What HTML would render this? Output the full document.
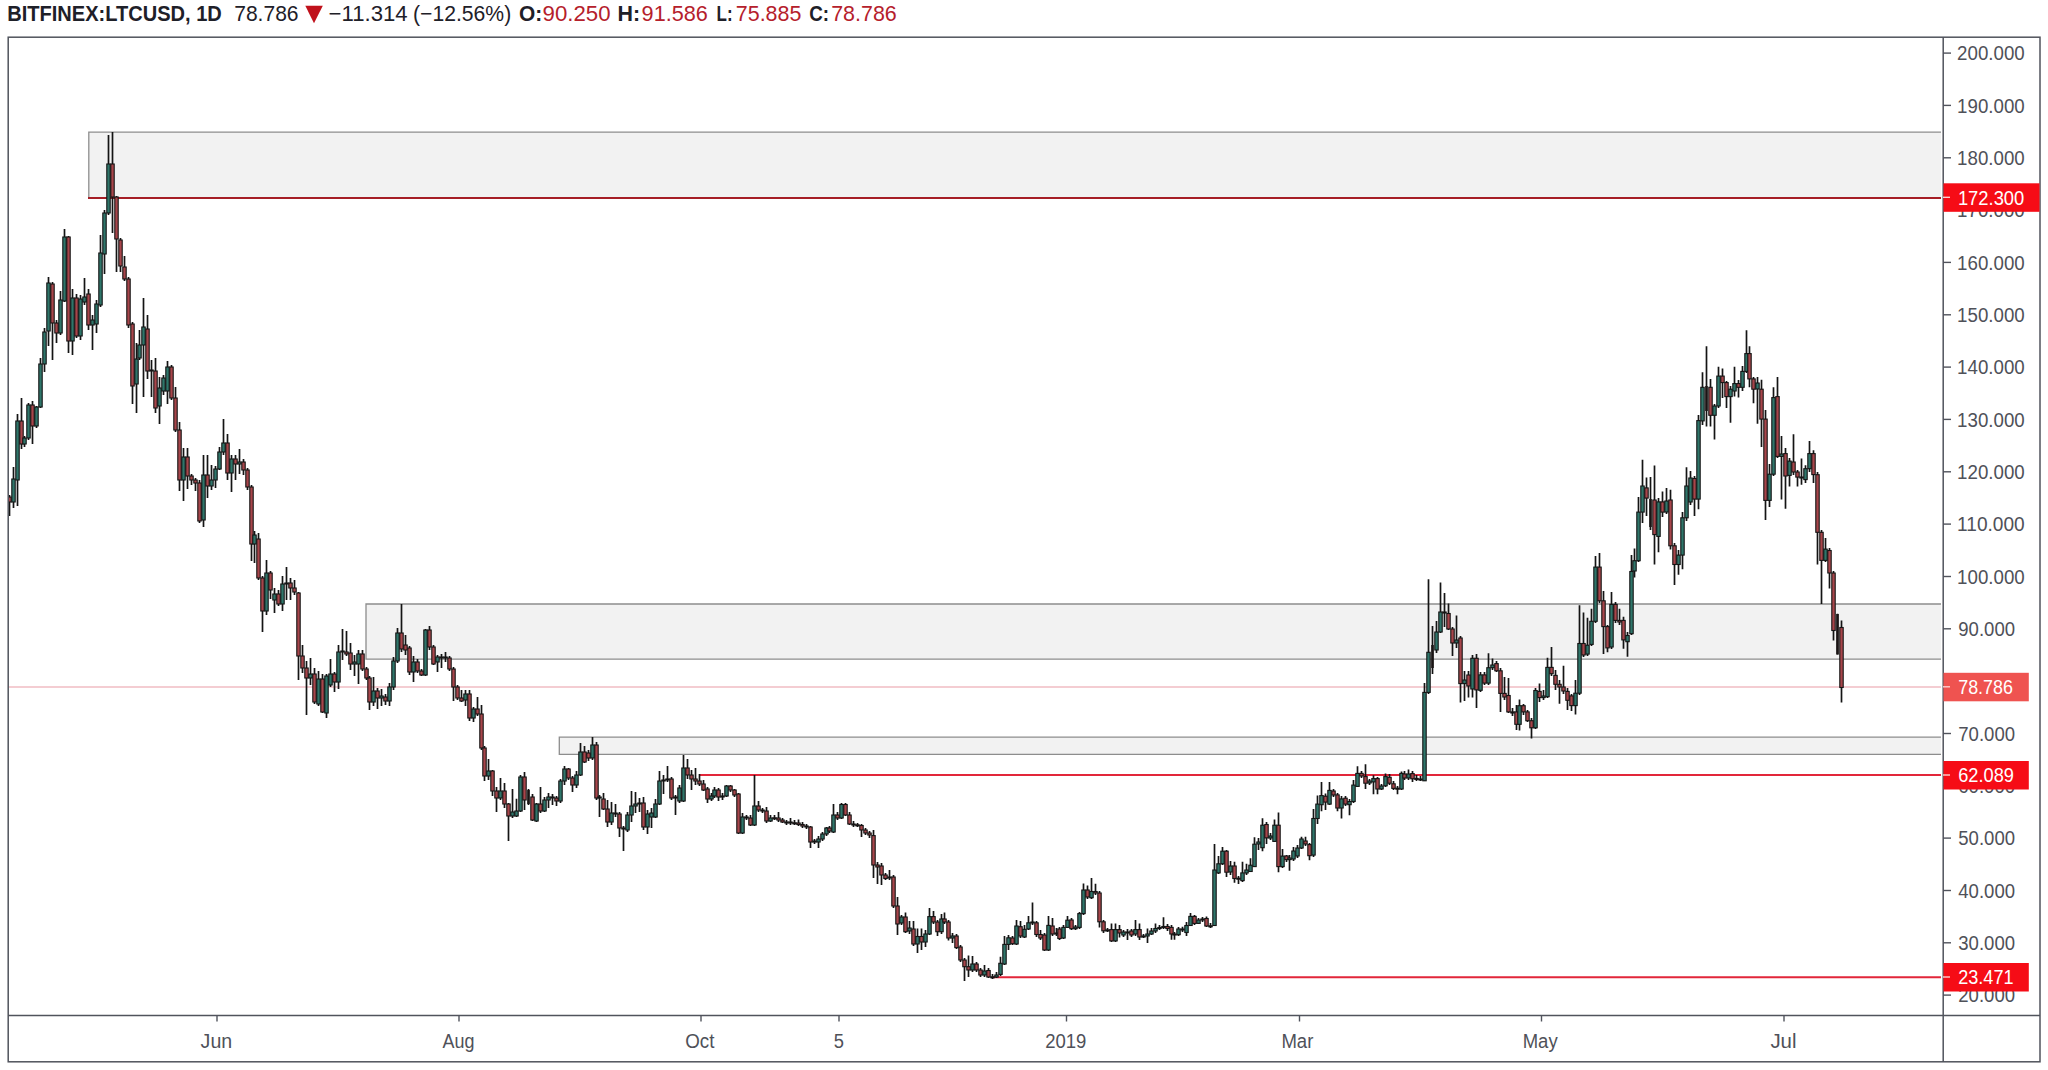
<!DOCTYPE html>
<html><head><meta charset="utf-8"><title>BITFINEX:LTCUSD, 1D</title>
<style>html,body{margin:0;padding:0;background:#fff;}body{width:2048px;height:1070px;position:relative;overflow:hidden;}</style>
</head><body>
<svg width="2048" height="1070" viewBox="0 0 2048 1070" style="position:absolute;left:0;top:0">
<defs><clipPath id="pane"><rect x="8.5" y="37.5" width="1934" height="977.5"/></clipPath></defs>
<g clip-path="url(#pane)">
<rect x="88.8" y="132.2" width="1852.2" height="65.60000000000002" fill="#f2f2f2"/>
<path d="M1941 132.2H88.8V197.8H1941" fill="none" stroke="#8d8d8d" stroke-width="1.3"/>
<rect x="366" y="604" width="1575" height="55.200000000000045" fill="#f2f2f2"/>
<path d="M1941 604H366V659.2H1941" fill="none" stroke="#8d8d8d" stroke-width="1.3"/>
<rect x="559.3" y="737.2" width="1381.7" height="17.09999999999991" fill="#f2f2f2"/>
<path d="M1941 737.2H559.3V754.3H1941" fill="none" stroke="#8d8d8d" stroke-width="1.3"/>
<line x1="8" y1="687" x2="1941" y2="687" stroke="#f1bcc3" stroke-width="1.6"/>
<line x1="88" y1="198" x2="1941" y2="198" stroke="#a61e26" stroke-width="2"/>
<line x1="699.5" y1="775.1" x2="1941" y2="775.1" stroke="#e2263a" stroke-width="2"/>
<line x1="993" y1="977.3" x2="1941" y2="977.3" stroke="#e2263a" stroke-width="2"/>
<path d="M9.50 495.0V516.0M13.50 467.0V508.0M17.50 414.0V506.0M21.50 398.0V449.0M24.50 436.0V447.0M28.50 403.0V440.0M32.50 401.0V444.0M36.50 406.0V428.0M40.50 358.0V408.0M44.50 328.0V372.0M48.50 277.0V346.0M52.50 282.0V360.0M56.50 320.0V343.0M60.50 291.0V335.0M64.50 229.0V302.0M68.50 236.0V353.0M72.50 289.0V355.0M76.50 294.0V338.0M80.50 295.0V340.0M84.50 278.0V305.0M88.50 289.0V330.0M92.50 315.0V350.0M96.50 300.0V333.0M100.50 235.0V307.0M104.50 210.0V274.0M108.50 135.0V215.0M112.50 132.0V233.0M116.50 196.0V272.0M120.50 238.0V272.0M124.50 256.0V281.0M128.50 277.0V328.0M132.50 322.0V404.0M136.50 343.0V413.0M139.50 330.0V360.0M143.50 298.0V397.0M147.50 315.0V379.0M151.50 360.0V397.0M155.50 358.0V413.0M159.50 377.0V424.0M163.50 375.0V395.0M167.50 361.0V404.0M171.50 365.0V400.0M175.50 387.0V432.0M179.50 422.0V491.0M183.50 448.0V501.0M187.50 448.0V489.0M191.50 474.0V485.0M195.50 478.0V491.0M199.50 480.0V523.0M203.50 455.0V527.0M207.50 455.0V498.0M211.50 465.0V490.0M215.50 466.0V488.0M219.50 447.0V470.0M223.50 419.0V455.0M227.50 434.0V480.0M231.50 455.0V492.0M235.50 455.0V480.0M239.50 449.0V474.0M243.50 459.0V475.0M247.50 468.0V490.0M251.50 485.0V561.0M254.50 531.0V563.0M258.50 533.0V580.0M262.50 576.0V632.0M266.50 560.0V615.0M270.50 571.0V599.0M274.50 588.0V613.0M278.50 590.0V606.0M282.50 576.0V611.0M286.50 567.0V600.0M290.50 578.0V600.0M294.50 580.0V595.0M298.50 592.0V680.0M302.50 645.0V673.0M306.50 661.0V715.0M310.50 658.0V685.0M314.50 668.0V704.0M318.50 671.0V706.0M322.50 674.0V713.0M326.50 674.0V718.0M330.50 659.0V687.0M334.50 672.0V692.0M338.50 645.0V689.0M342.50 629.0V660.0M346.50 631.0V656.0M350.50 643.0V670.0M354.50 655.0V676.0M358.50 650.0V684.0M362.50 650.0V671.0M366.50 667.0V680.0M369.50 676.0V710.0M373.50 677.0V706.0M377.50 688.0V709.0M381.50 689.0V706.0M385.50 694.0V705.0M389.50 683.0V706.0M393.50 657.0V690.0M397.50 628.0V663.0M401.50 604.0V652.0M405.50 635.0V655.0M409.50 646.0V675.0M413.50 656.0V682.0M417.50 659.0V673.0M421.50 669.0V676.0M425.50 629.0V676.0M429.50 626.0V650.0M433.50 645.0V665.0M437.50 655.0V672.0M441.50 654.0V668.0M445.50 652.0V662.0M449.50 656.0V671.0M453.50 667.0V701.0M457.50 685.0V700.0M461.50 690.0V702.0M465.50 690.0V706.0M469.50 690.0V721.0M473.50 707.0V722.0M477.50 697.0V716.0M481.50 705.0V750.0M484.50 746.0V781.0M488.50 759.0V780.0M492.50 770.0V796.0M496.50 787.0V812.0M500.50 778.0V800.0M504.50 783.0V808.0M508.50 803.0V841.0M512.50 789.0V818.0M516.50 798.7V817.0M520.50 775.0V812.0M524.50 772.0V810.0M528.50 789.0V805.0M532.50 794.0V821.0M536.50 803.0V822.0M540.50 787.0V813.0M544.50 797.0V812.0M548.50 793.0V808.0M552.50 794.0V805.0M556.50 796.0V806.0M560.50 779.0V803.0M564.50 766.0V785.0M568.50 768.0V780.0M572.50 776.0V792.0M576.50 771.0V788.0M580.50 743.0V776.0M584.50 746.0V763.0M588.50 750.0V761.0M592.50 737.0V760.0M596.50 742.0V800.0M599.50 795.0V817.0M603.50 793.0V810.0M607.50 800.0V827.0M611.50 802.0V825.0M615.50 804.0V817.0M619.50 812.0V837.0M623.50 826.0V851.0M627.50 812.0V832.0M631.50 791.0V822.0M635.50 792.0V813.0M639.50 798.0V812.0M643.50 797.0V830.0M647.50 810.0V834.0M651.50 808.0V828.0M655.50 799.0V818.0M659.50 771.0V805.0M663.50 775.0V794.0M667.50 766.0V782.0M671.50 777.0V800.0M675.50 795.0V815.0M679.50 785.0V803.0M683.50 755.0V802.0M687.50 759.0V779.0M691.50 770.0V790.0M695.50 768.0V785.0M699.50 774.0V786.0M703.50 780.0V791.0M707.50 787.0V803.0M711.50 793.0V801.0M714.50 787.0V798.0M718.50 788.0V801.0M722.50 793.0V800.0M726.50 785.0V797.0M730.50 785.0V792.0M734.50 789.0V797.0M738.50 793.0V834.0M742.50 813.0V834.0M746.50 815.0V820.0M750.50 815.0V826.0M754.50 775.0V826.0M758.50 801.0V812.0M762.50 808.0V813.0M766.50 807.0V823.0M770.50 815.0V822.0M774.50 815.0V820.0M778.50 812.0V822.0M782.50 818.0V823.0M786.50 820.0V825.0M790.50 818.0V825.0M794.50 820.0V825.0M798.50 819.6V826.0M802.50 822.0V828.0M806.50 824.0V829.0M810.50 826.0V848.0M814.50 839.0V844.0M818.50 836.0V848.0M822.50 832.0V841.0M826.50 827.0V836.0M829.50 826.0V833.0M833.50 804.0V833.0M837.50 812.0V820.0M841.50 803.0V819.0M845.50 803.0V816.0M849.50 812.0V825.0M853.50 821.0V827.0M857.50 823.0V827.0M861.50 824.0V837.0M865.50 828.0V835.0M869.50 831.0V838.0M873.50 830.0V878.0M877.50 862.0V884.0M881.50 863.0V885.0M885.50 873.0V880.0M889.50 870.0V880.0M893.50 875.0V908.0M897.50 897.0V935.0M901.50 915.0V925.0M905.50 912.6V933.0M909.50 921.0V934.0M913.50 921.0V946.0M917.50 928.5V953.0M921.50 928.5V950.0M925.50 930.0V947.0M929.50 908.0V935.0M933.50 911.0V924.0M937.50 920.0V936.0M941.50 914.0V934.0M944.50 912.6V924.0M948.50 920.0V940.5M952.50 933.0V943.0M956.50 934.0V949.0M960.50 945.0V962.0M964.50 958.0V981.0M968.50 955.6V977.0M972.50 956.0V972.0M976.50 962.0V972.0M980.50 968.0V977.0M984.50 965.0V977.0M988.50 968.0V978.0M992.50 974.0V979.0M996.50 972.0V978.0M1000.50 956.8V976.0M1004.50 935.9V965.0M1008.50 935.0V950.0M1012.50 936.0V945.0M1016.50 920.0V945.0M1020.50 921.0V938.0M1024.50 925.0V938.0M1028.50 916.0V930.0M1032.50 902.5V925.0M1036.50 921.0V937.0M1040.50 930.0V940.0M1044.50 933.0V951.0M1048.50 916.0V951.0M1052.50 918.0V936.0M1056.50 928.0V936.0M1059.50 927.0V940.0M1063.50 925.0V939.0M1067.50 916.0V928.0M1071.50 918.0V930.0M1075.50 925.0V930.0M1079.50 912.0V929.0M1083.50 883.5V915.0M1087.50 885.5V899.0M1091.50 878.0V899.0M1095.50 883.7V895.0M1099.50 891.0V927.4M1103.50 920.0V933.0M1107.50 928.0V932.0M1111.50 923.5V942.0M1115.50 923.5V942.0M1119.50 925.0V937.5M1123.50 930.0V937.0M1127.50 929.0V940.0M1131.50 929.0V937.0M1135.50 920.0V936.0M1139.50 923.5V940.0M1143.50 934.0V938.0M1147.50 928.5V943.0M1151.50 928.0V935.0M1155.50 923.5V933.0M1159.50 925.0V930.0M1163.50 917.3V929.0M1167.50 924.0V931.0M1171.50 925.0V939.7M1174.50 932.0V939.7M1178.50 927.0V936.0M1182.50 926.8V932.0M1186.50 922.0V936.0M1190.50 912.9V926.0M1194.50 915.0V925.0M1198.50 918.0V924.0M1202.50 917.0V922.0M1206.50 916.4V927.0M1210.50 923.0V928.0M1214.50 844.0V926.0M1218.50 856.0V874.0M1222.50 847.0V865.0M1226.50 850.0V877.0M1230.50 861.0V875.0M1234.50 861.7V882.7M1238.50 876.0V884.0M1242.50 861.7V882.0M1246.50 863.8V875.0M1250.50 858.2V872.0M1254.50 837.2V867.0M1258.50 838.0V850.0M1262.50 818.2V851.2M1266.50 822.0V844.0M1270.50 833.0V840.0M1274.50 819.6V842.0M1278.50 812.6V872.2M1282.50 849.0V868.0M1286.50 855.0V862.0M1289.50 855.0V870.8M1293.50 847.0V861.0M1297.50 845.0V858.0M1301.50 836.8V849.0M1305.50 836.8V846.0M1309.50 843.0V860.3M1313.50 809.0V857.0M1317.50 795.6V824.0M1321.50 781.9V811.3M1325.50 793.6V810.0M1329.50 781.9V805.0M1333.50 789.0V797.0M1337.50 793.0V811.3M1341.50 796.0V818.5M1345.50 796.0V806.0M1349.50 799.0V815.2M1353.50 780.0V803.0M1357.50 766.2V787.0M1361.50 771.0V778.0M1365.50 764.2V789.0M1369.50 779.0V785.0M1373.50 775.3V794.3M1377.50 777.0V794.3M1381.50 784.0V790.0M1385.50 773.4V787.0M1389.50 774.0V785.0M1393.50 781.0V790.0M1397.50 786.0V794.3M1401.50 771.4V790.0M1404.50 771.0V780.0M1408.50 769.5V780.0M1412.50 771.0V782.0M1416.50 775.0V781.0M1420.50 776.0V781.0M1424.50 683.1V781.0M1428.50 579.3V694.0M1432.50 626.0V674.0M1436.50 621.0V653.0M1440.50 582.6V633.0M1444.50 593.0V627.0M1448.50 603.6V630.0M1452.50 627.0V656.0M1456.50 615.6V648.0M1460.50 636.0V702.5M1464.50 671.0V701.0M1468.50 671.0V697.6M1472.50 655.0V697.6M1476.50 654.0V708.0M1480.50 672.0V692.0M1484.50 672.0V685.0M1488.50 653.3V685.0M1492.50 658.4V670.0M1496.50 661.0V672.0M1500.50 668.0V711.9M1504.50 677.0V700.0M1508.50 678.0V713.0M1512.50 708.0V716.0M1516.50 705.0V730.0M1519.50 699.6V730.4M1523.50 704.0V715.0M1527.50 710.0V722.0M1531.50 718.0V738.5M1535.50 688.0V729.0M1539.50 683.4V702.0M1543.50 690.0V700.0M1547.50 657.7V698.0M1551.50 647.0V676.0M1555.50 670.0V690.0M1559.50 680.0V703.8M1563.50 665.7V694.0M1567.50 688.0V710.0M1571.50 694.0V711.0M1575.50 679.9V714.5M1579.50 605.3V695.0M1583.50 612.4V657.0M1587.50 617.7V656.0M1591.50 608.8V646.0M1595.50 556.0V623.0M1599.50 553.0V603.0M1603.50 591.0V654.0M1607.50 625.0V652.3M1611.50 592.0V649.0M1615.50 602.0V623.0M1619.50 608.8V625.0M1623.50 616.8V648.8M1627.50 632.0V656.8M1631.50 555.0V635.0M1634.50 548.6V577.6M1638.50 497.0V562.0M1642.50 459.8V523.0M1646.50 477.6V515.9M1650.50 477.0V530.0M1654.50 465.4V564.5M1658.50 498.0V552.3M1662.50 491.6V517.0M1666.50 488.0V514.0M1670.50 489.7V549.5M1674.50 543.0V585.0M1678.50 550.0V574.8M1682.50 512.1V569.2M1686.50 467.3V521.0M1690.50 471.0V505.0M1694.50 476.0V515.9M1698.50 415.0V509.3M1702.50 372.3V425.0M1706.50 346.2V426.5M1710.50 378.9V426.5M1714.50 404.0V439.6M1718.50 366.7V408.0M1722.50 368.6V398.0M1726.50 381.0V407.9M1730.50 386.0V422.8M1734.50 366.7V396.6M1738.50 380.0V397.6M1742.50 366.0V391.0M1746.50 330.3V373.0M1749.50 346.2V387.3M1753.50 377.0V403.2M1757.50 377.0V423.7M1761.50 379.8V447.1M1765.50 410.0V520.0M1769.50 464.0V506.9M1773.50 387.3V476.0M1777.50 377.0V458.0M1781.50 435.9V499.4M1785.50 448.0V508.8M1789.50 458.0V486.4M1793.50 434.2V475.0M1797.50 470.0V486.4M1801.50 458.6V484.7M1805.50 465.3V483.0M1809.50 441.0V472.0M1813.50 450.2V483.0M1817.50 472.0V564.6M1821.50 530.0V603.9M1825.50 537.9V562.0M1829.50 548.0V588.4M1833.50 571.0V640.4M1837.50 613.7V654.5M1841.50 620.5V702.6" stroke="#141414" stroke-width="1.7" fill="none"/>
<rect x="7.80" y="497.0" width="3.4" height="5.0" fill="#a8454b" stroke="#141414" stroke-width="1.1"/>
<rect x="11.80" y="479.0" width="3.4" height="23.0" fill="#2f766a" stroke="#141414" stroke-width="1.1"/>
<rect x="15.80" y="421.0" width="3.4" height="59.0" fill="#2f766a" stroke="#141414" stroke-width="1.1"/>
<rect x="19.80" y="421.0" width="3.4" height="23.0" fill="#a8454b" stroke="#141414" stroke-width="1.1"/>
<rect x="22.80" y="438.0" width="3.4" height="6.0" fill="#2f766a" stroke="#141414" stroke-width="1.1"/>
<rect x="26.80" y="405.0" width="3.4" height="33.0" fill="#2f766a" stroke="#141414" stroke-width="1.1"/>
<rect x="30.80" y="405.0" width="3.4" height="21.0" fill="#a8454b" stroke="#141414" stroke-width="1.1"/>
<rect x="34.80" y="407.0" width="3.4" height="19.0" fill="#2f766a" stroke="#141414" stroke-width="1.1"/>
<rect x="38.80" y="364.0" width="3.4" height="43.0" fill="#2f766a" stroke="#141414" stroke-width="1.1"/>
<rect x="42.80" y="332.0" width="3.4" height="32.0" fill="#2f766a" stroke="#141414" stroke-width="1.1"/>
<rect x="46.80" y="283.0" width="3.4" height="48.0" fill="#2f766a" stroke="#141414" stroke-width="1.1"/>
<rect x="50.80" y="284.0" width="3.4" height="39.0" fill="#a8454b" stroke="#141414" stroke-width="1.1"/>
<rect x="54.80" y="323.0" width="3.4" height="10.0" fill="#a8454b" stroke="#141414" stroke-width="1.1"/>
<rect x="58.80" y="300.0" width="3.4" height="33.0" fill="#2f766a" stroke="#141414" stroke-width="1.1"/>
<rect x="62.80" y="237.0" width="3.4" height="64.0" fill="#2f766a" stroke="#141414" stroke-width="1.1"/>
<rect x="66.80" y="237.0" width="3.4" height="104.0" fill="#a8454b" stroke="#141414" stroke-width="1.1"/>
<rect x="70.80" y="298.0" width="3.4" height="43.0" fill="#2f766a" stroke="#141414" stroke-width="1.1"/>
<rect x="74.80" y="298.0" width="3.4" height="38.0" fill="#a8454b" stroke="#141414" stroke-width="1.1"/>
<rect x="78.80" y="299.0" width="3.4" height="37.0" fill="#2f766a" stroke="#141414" stroke-width="1.1"/>
<rect x="82.80" y="297.0" width="3.4" height="5.0" fill="#2f766a" stroke="#141414" stroke-width="1.1"/>
<rect x="86.80" y="294.0" width="3.4" height="31.0" fill="#a8454b" stroke="#141414" stroke-width="1.1"/>
<rect x="90.80" y="320.0" width="3.4" height="5.0" fill="#2f766a" stroke="#141414" stroke-width="1.1"/>
<rect x="94.80" y="304.0" width="3.4" height="20.0" fill="#2f766a" stroke="#141414" stroke-width="1.1"/>
<rect x="98.80" y="253.0" width="3.4" height="52.0" fill="#2f766a" stroke="#141414" stroke-width="1.1"/>
<rect x="102.80" y="213.0" width="3.4" height="41.0" fill="#2f766a" stroke="#141414" stroke-width="1.1"/>
<rect x="106.80" y="164.0" width="3.4" height="49.0" fill="#2f766a" stroke="#141414" stroke-width="1.1"/>
<rect x="110.80" y="164.0" width="3.4" height="33.0" fill="#a8454b" stroke="#141414" stroke-width="1.1"/>
<rect x="114.80" y="197.0" width="3.4" height="42.0" fill="#a8454b" stroke="#141414" stroke-width="1.1"/>
<rect x="118.80" y="240.0" width="3.4" height="26.0" fill="#a8454b" stroke="#141414" stroke-width="1.1"/>
<rect x="122.80" y="267.0" width="3.4" height="12.0" fill="#a8454b" stroke="#141414" stroke-width="1.1"/>
<rect x="126.80" y="279.0" width="3.4" height="46.0" fill="#a8454b" stroke="#141414" stroke-width="1.1"/>
<rect x="130.80" y="324.0" width="3.4" height="62.0" fill="#a8454b" stroke="#141414" stroke-width="1.1"/>
<rect x="134.80" y="359.0" width="3.4" height="25.0" fill="#2f766a" stroke="#141414" stroke-width="1.1"/>
<rect x="137.80" y="345.0" width="3.4" height="13.0" fill="#2f766a" stroke="#141414" stroke-width="1.1"/>
<rect x="141.80" y="327.0" width="3.4" height="18.0" fill="#2f766a" stroke="#141414" stroke-width="1.1"/>
<rect x="145.80" y="329.0" width="3.4" height="42.0" fill="#a8454b" stroke="#141414" stroke-width="1.1"/>
<rect x="149.80" y="370.0" width="3.4" height="1.0" fill="#2f766a" stroke="#141414" stroke-width="1.1"/>
<rect x="153.80" y="371.0" width="3.4" height="37.0" fill="#a8454b" stroke="#141414" stroke-width="1.1"/>
<rect x="157.80" y="388.0" width="3.4" height="18.0" fill="#2f766a" stroke="#141414" stroke-width="1.1"/>
<rect x="161.80" y="378.0" width="3.4" height="13.0" fill="#2f766a" stroke="#141414" stroke-width="1.1"/>
<rect x="165.80" y="367.0" width="3.4" height="24.0" fill="#2f766a" stroke="#141414" stroke-width="1.1"/>
<rect x="169.80" y="367.0" width="3.4" height="31.0" fill="#a8454b" stroke="#141414" stroke-width="1.1"/>
<rect x="173.80" y="398.0" width="3.4" height="32.0" fill="#a8454b" stroke="#141414" stroke-width="1.1"/>
<rect x="177.80" y="430.0" width="3.4" height="50.0" fill="#a8454b" stroke="#141414" stroke-width="1.1"/>
<rect x="181.80" y="457.0" width="3.4" height="23.0" fill="#2f766a" stroke="#141414" stroke-width="1.1"/>
<rect x="185.80" y="457.0" width="3.4" height="19.0" fill="#a8454b" stroke="#141414" stroke-width="1.1"/>
<rect x="189.80" y="476.0" width="3.4" height="4.0" fill="#a8454b" stroke="#141414" stroke-width="1.1"/>
<rect x="193.80" y="480.0" width="3.4" height="3.0" fill="#a8454b" stroke="#141414" stroke-width="1.1"/>
<rect x="197.80" y="483.0" width="3.4" height="38.0" fill="#a8454b" stroke="#141414" stroke-width="1.1"/>
<rect x="201.80" y="475.0" width="3.4" height="45.0" fill="#2f766a" stroke="#141414" stroke-width="1.1"/>
<rect x="205.80" y="475.0" width="3.4" height="11.0" fill="#a8454b" stroke="#141414" stroke-width="1.1"/>
<rect x="209.80" y="480.0" width="3.4" height="6.0" fill="#2f766a" stroke="#141414" stroke-width="1.1"/>
<rect x="213.80" y="469.0" width="3.4" height="11.0" fill="#2f766a" stroke="#141414" stroke-width="1.1"/>
<rect x="217.80" y="452.0" width="3.4" height="17.0" fill="#2f766a" stroke="#141414" stroke-width="1.1"/>
<rect x="221.80" y="443.0" width="3.4" height="9.0" fill="#2f766a" stroke="#141414" stroke-width="1.1"/>
<rect x="225.80" y="443.0" width="3.4" height="30.0" fill="#a8454b" stroke="#141414" stroke-width="1.1"/>
<rect x="229.80" y="459.0" width="3.4" height="14.0" fill="#2f766a" stroke="#141414" stroke-width="1.1"/>
<rect x="233.80" y="459.0" width="3.4" height="5.0" fill="#a8454b" stroke="#141414" stroke-width="1.1"/>
<rect x="237.80" y="462.0" width="3.4" height="2.0" fill="#2f766a" stroke="#141414" stroke-width="1.1"/>
<rect x="241.80" y="462.0" width="3.4" height="8.0" fill="#a8454b" stroke="#141414" stroke-width="1.1"/>
<rect x="245.80" y="470.0" width="3.4" height="17.0" fill="#a8454b" stroke="#141414" stroke-width="1.1"/>
<rect x="249.80" y="487.0" width="3.4" height="57.0" fill="#a8454b" stroke="#141414" stroke-width="1.1"/>
<rect x="252.80" y="535.0" width="3.4" height="9.0" fill="#2f766a" stroke="#141414" stroke-width="1.1"/>
<rect x="256.80" y="539.0" width="3.4" height="39.0" fill="#a8454b" stroke="#141414" stroke-width="1.1"/>
<rect x="260.80" y="578.0" width="3.4" height="33.0" fill="#a8454b" stroke="#141414" stroke-width="1.1"/>
<rect x="264.80" y="573.0" width="3.4" height="38.0" fill="#2f766a" stroke="#141414" stroke-width="1.1"/>
<rect x="268.80" y="573.0" width="3.4" height="17.0" fill="#a8454b" stroke="#141414" stroke-width="1.1"/>
<rect x="272.80" y="594.0" width="3.4" height="6.0" fill="#2f766a" stroke="#141414" stroke-width="1.1"/>
<rect x="276.80" y="594.0" width="3.4" height="10.0" fill="#a8454b" stroke="#141414" stroke-width="1.1"/>
<rect x="280.80" y="584.0" width="3.4" height="20.0" fill="#2f766a" stroke="#141414" stroke-width="1.1"/>
<rect x="284.80" y="583.0" width="3.4" height="1.0" fill="#2f766a" stroke="#141414" stroke-width="1.1"/>
<rect x="288.80" y="583.0" width="3.4" height="5.0" fill="#a8454b" stroke="#141414" stroke-width="1.1"/>
<rect x="292.80" y="588.0" width="3.4" height="4.0" fill="#a8454b" stroke="#141414" stroke-width="1.1"/>
<rect x="296.80" y="593.0" width="3.4" height="63.0" fill="#a8454b" stroke="#141414" stroke-width="1.1"/>
<rect x="300.80" y="656.0" width="3.4" height="12.0" fill="#a8454b" stroke="#141414" stroke-width="1.1"/>
<rect x="304.80" y="668.0" width="3.4" height="10.0" fill="#a8454b" stroke="#141414" stroke-width="1.1"/>
<rect x="308.80" y="674.0" width="3.4" height="4.0" fill="#2f766a" stroke="#141414" stroke-width="1.1"/>
<rect x="312.80" y="674.0" width="3.4" height="28.0" fill="#a8454b" stroke="#141414" stroke-width="1.1"/>
<rect x="316.80" y="679.0" width="3.4" height="25.0" fill="#2f766a" stroke="#141414" stroke-width="1.1"/>
<rect x="320.80" y="679.0" width="3.4" height="33.0" fill="#a8454b" stroke="#141414" stroke-width="1.1"/>
<rect x="324.80" y="676.0" width="3.4" height="37.0" fill="#2f766a" stroke="#141414" stroke-width="1.1"/>
<rect x="328.80" y="674.0" width="3.4" height="11.0" fill="#2f766a" stroke="#141414" stroke-width="1.1"/>
<rect x="332.80" y="674.0" width="3.4" height="8.0" fill="#a8454b" stroke="#141414" stroke-width="1.1"/>
<rect x="336.80" y="652.0" width="3.4" height="30.0" fill="#2f766a" stroke="#141414" stroke-width="1.1"/>
<rect x="340.80" y="651.0" width="3.4" height="1.0" fill="#2f766a" stroke="#141414" stroke-width="1.1"/>
<rect x="344.80" y="652.0" width="3.4" height="2.0" fill="#a8454b" stroke="#141414" stroke-width="1.1"/>
<rect x="348.80" y="653.0" width="3.4" height="11.0" fill="#a8454b" stroke="#141414" stroke-width="1.1"/>
<rect x="352.80" y="662.0" width="3.4" height="2.0" fill="#2f766a" stroke="#141414" stroke-width="1.1"/>
<rect x="356.80" y="654.0" width="3.4" height="10.0" fill="#2f766a" stroke="#141414" stroke-width="1.1"/>
<rect x="360.80" y="654.0" width="3.4" height="15.0" fill="#a8454b" stroke="#141414" stroke-width="1.1"/>
<rect x="364.80" y="669.0" width="3.4" height="9.0" fill="#a8454b" stroke="#141414" stroke-width="1.1"/>
<rect x="367.80" y="678.0" width="3.4" height="24.0" fill="#a8454b" stroke="#141414" stroke-width="1.1"/>
<rect x="371.80" y="691.0" width="3.4" height="11.0" fill="#2f766a" stroke="#141414" stroke-width="1.1"/>
<rect x="375.80" y="691.0" width="3.4" height="7.0" fill="#a8454b" stroke="#141414" stroke-width="1.1"/>
<rect x="379.80" y="696.0" width="3.4" height="2.0" fill="#2f766a" stroke="#141414" stroke-width="1.1"/>
<rect x="383.80" y="697.0" width="3.4" height="4.0" fill="#a8454b" stroke="#141414" stroke-width="1.1"/>
<rect x="387.80" y="687.0" width="3.4" height="14.0" fill="#2f766a" stroke="#141414" stroke-width="1.1"/>
<rect x="391.80" y="661.0" width="3.4" height="26.0" fill="#2f766a" stroke="#141414" stroke-width="1.1"/>
<rect x="395.80" y="633.0" width="3.4" height="28.0" fill="#2f766a" stroke="#141414" stroke-width="1.1"/>
<rect x="399.80" y="633.0" width="3.4" height="16.0" fill="#a8454b" stroke="#141414" stroke-width="1.1"/>
<rect x="403.80" y="645.0" width="3.4" height="5.0" fill="#a8454b" stroke="#141414" stroke-width="1.1"/>
<rect x="407.80" y="648.0" width="3.4" height="24.0" fill="#a8454b" stroke="#141414" stroke-width="1.1"/>
<rect x="411.80" y="662.0" width="3.4" height="10.0" fill="#2f766a" stroke="#141414" stroke-width="1.1"/>
<rect x="415.80" y="662.0" width="3.4" height="9.0" fill="#a8454b" stroke="#141414" stroke-width="1.1"/>
<rect x="419.80" y="671.0" width="3.4" height="4.0" fill="#a8454b" stroke="#141414" stroke-width="1.1"/>
<rect x="423.80" y="630.0" width="3.4" height="45.0" fill="#2f766a" stroke="#141414" stroke-width="1.1"/>
<rect x="427.80" y="630.0" width="3.4" height="17.0" fill="#a8454b" stroke="#141414" stroke-width="1.1"/>
<rect x="431.80" y="647.0" width="3.4" height="17.0" fill="#a8454b" stroke="#141414" stroke-width="1.1"/>
<rect x="435.80" y="657.0" width="3.4" height="5.0" fill="#2f766a" stroke="#141414" stroke-width="1.1"/>
<rect x="439.80" y="657.0" width="3.4" height="1.0" fill="#a8454b" stroke="#141414" stroke-width="1.1"/>
<rect x="443.80" y="657.0" width="3.4" height="1.0" fill="#2f766a" stroke="#141414" stroke-width="1.1"/>
<rect x="447.80" y="658.0" width="3.4" height="11.0" fill="#a8454b" stroke="#141414" stroke-width="1.1"/>
<rect x="451.80" y="669.0" width="3.4" height="18.0" fill="#a8454b" stroke="#141414" stroke-width="1.1"/>
<rect x="455.80" y="687.0" width="3.4" height="11.0" fill="#a8454b" stroke="#141414" stroke-width="1.1"/>
<rect x="459.80" y="698.0" width="3.4" height="3.0" fill="#a8454b" stroke="#141414" stroke-width="1.1"/>
<rect x="463.80" y="694.0" width="3.4" height="6.0" fill="#2f766a" stroke="#141414" stroke-width="1.1"/>
<rect x="467.80" y="694.0" width="3.4" height="24.0" fill="#a8454b" stroke="#141414" stroke-width="1.1"/>
<rect x="471.80" y="709.0" width="3.4" height="9.0" fill="#2f766a" stroke="#141414" stroke-width="1.1"/>
<rect x="475.80" y="709.0" width="3.4" height="5.0" fill="#a8454b" stroke="#141414" stroke-width="1.1"/>
<rect x="479.80" y="714.0" width="3.4" height="34.0" fill="#a8454b" stroke="#141414" stroke-width="1.1"/>
<rect x="482.80" y="748.0" width="3.4" height="28.0" fill="#a8454b" stroke="#141414" stroke-width="1.1"/>
<rect x="486.80" y="771.0" width="3.4" height="5.0" fill="#2f766a" stroke="#141414" stroke-width="1.1"/>
<rect x="490.80" y="771.0" width="3.4" height="20.0" fill="#a8454b" stroke="#141414" stroke-width="1.1"/>
<rect x="494.80" y="791.0" width="3.4" height="7.0" fill="#a8454b" stroke="#141414" stroke-width="1.1"/>
<rect x="498.80" y="791.0" width="3.4" height="7.0" fill="#2f766a" stroke="#141414" stroke-width="1.1"/>
<rect x="502.80" y="791.0" width="3.4" height="13.0" fill="#a8454b" stroke="#141414" stroke-width="1.1"/>
<rect x="506.80" y="804.0" width="3.4" height="12.0" fill="#a8454b" stroke="#141414" stroke-width="1.1"/>
<rect x="510.80" y="812.0" width="3.4" height="4.0" fill="#2f766a" stroke="#141414" stroke-width="1.1"/>
<rect x="514.80" y="811.0" width="3.4" height="5.0" fill="#2f766a" stroke="#141414" stroke-width="1.1"/>
<rect x="518.80" y="777.0" width="3.4" height="34.0" fill="#2f766a" stroke="#141414" stroke-width="1.1"/>
<rect x="522.80" y="777.0" width="3.4" height="23.0" fill="#a8454b" stroke="#141414" stroke-width="1.1"/>
<rect x="527.20" y="790.0" width="2.6" height="14.0" fill="#1a1414"/>
<rect x="530.80" y="797.0" width="3.4" height="23.0" fill="#a8454b" stroke="#141414" stroke-width="1.1"/>
<rect x="534.80" y="804.0" width="3.4" height="17.0" fill="#2f766a" stroke="#141414" stroke-width="1.1"/>
<rect x="538.80" y="804.0" width="3.4" height="7.0" fill="#a8454b" stroke="#141414" stroke-width="1.1"/>
<rect x="542.80" y="800.0" width="3.4" height="11.0" fill="#2f766a" stroke="#141414" stroke-width="1.1"/>
<rect x="546.80" y="797.0" width="3.4" height="3.0" fill="#2f766a" stroke="#141414" stroke-width="1.1"/>
<rect x="550.80" y="797.0" width="3.4" height="1.0" fill="#a8454b" stroke="#141414" stroke-width="1.1"/>
<rect x="554.80" y="798.0" width="3.4" height="3.0" fill="#a8454b" stroke="#141414" stroke-width="1.1"/>
<rect x="558.80" y="781.0" width="3.4" height="20.0" fill="#2f766a" stroke="#141414" stroke-width="1.1"/>
<rect x="562.80" y="769.0" width="3.4" height="12.0" fill="#2f766a" stroke="#141414" stroke-width="1.1"/>
<rect x="566.80" y="769.0" width="3.4" height="9.0" fill="#a8454b" stroke="#141414" stroke-width="1.1"/>
<rect x="570.80" y="778.0" width="3.4" height="7.0" fill="#a8454b" stroke="#141414" stroke-width="1.1"/>
<rect x="574.80" y="775.0" width="3.4" height="10.0" fill="#2f766a" stroke="#141414" stroke-width="1.1"/>
<rect x="578.80" y="752.0" width="3.4" height="23.0" fill="#2f766a" stroke="#141414" stroke-width="1.1"/>
<rect x="582.80" y="752.0" width="3.4" height="10.0" fill="#a8454b" stroke="#141414" stroke-width="1.1"/>
<rect x="586.80" y="753.0" width="3.4" height="5.0" fill="#a8454b" stroke="#141414" stroke-width="1.1"/>
<rect x="590.80" y="745.0" width="3.4" height="13.0" fill="#2f766a" stroke="#141414" stroke-width="1.1"/>
<rect x="594.80" y="745.0" width="3.4" height="53.0" fill="#a8454b" stroke="#141414" stroke-width="1.1"/>
<rect x="597.80" y="797.0" width="3.4" height="1.0" fill="#2f766a" stroke="#141414" stroke-width="1.1"/>
<rect x="601.80" y="799.0" width="3.4" height="10.0" fill="#a8454b" stroke="#141414" stroke-width="1.1"/>
<rect x="605.80" y="809.0" width="3.4" height="13.0" fill="#a8454b" stroke="#141414" stroke-width="1.1"/>
<rect x="609.80" y="813.0" width="3.4" height="9.0" fill="#2f766a" stroke="#141414" stroke-width="1.1"/>
<rect x="613.80" y="813.0" width="3.4" height="1.0" fill="#a8454b" stroke="#141414" stroke-width="1.1"/>
<rect x="617.80" y="814.0" width="3.4" height="14.0" fill="#a8454b" stroke="#141414" stroke-width="1.1"/>
<rect x="621.80" y="828.0" width="3.4" height="1.0" fill="#a8454b" stroke="#141414" stroke-width="1.1"/>
<rect x="625.80" y="815.0" width="3.4" height="15.0" fill="#2f766a" stroke="#141414" stroke-width="1.1"/>
<rect x="629.80" y="806.0" width="3.4" height="9.0" fill="#2f766a" stroke="#141414" stroke-width="1.1"/>
<rect x="633.80" y="804.0" width="3.4" height="2.0" fill="#2f766a" stroke="#141414" stroke-width="1.1"/>
<rect x="637.80" y="803.0" width="3.4" height="1.0" fill="#2f766a" stroke="#141414" stroke-width="1.1"/>
<rect x="641.80" y="803.0" width="3.4" height="24.0" fill="#a8454b" stroke="#141414" stroke-width="1.1"/>
<rect x="645.80" y="814.0" width="3.4" height="13.0" fill="#2f766a" stroke="#141414" stroke-width="1.1"/>
<rect x="649.80" y="813.0" width="3.4" height="4.0" fill="#2f766a" stroke="#141414" stroke-width="1.1"/>
<rect x="653.80" y="804.0" width="3.4" height="13.0" fill="#2f766a" stroke="#141414" stroke-width="1.1"/>
<rect x="657.80" y="781.0" width="3.4" height="23.0" fill="#2f766a" stroke="#141414" stroke-width="1.1"/>
<rect x="661.80" y="780.0" width="3.4" height="1.0" fill="#2f766a" stroke="#141414" stroke-width="1.1"/>
<rect x="665.80" y="779.0" width="3.4" height="1.0" fill="#2f766a" stroke="#141414" stroke-width="1.1"/>
<rect x="669.80" y="779.0" width="3.4" height="19.0" fill="#a8454b" stroke="#141414" stroke-width="1.1"/>
<rect x="673.80" y="797.0" width="3.4" height="1.0" fill="#2f766a" stroke="#141414" stroke-width="1.1"/>
<rect x="677.80" y="788.0" width="3.4" height="13.0" fill="#2f766a" stroke="#141414" stroke-width="1.1"/>
<rect x="681.80" y="768.0" width="3.4" height="33.0" fill="#2f766a" stroke="#141414" stroke-width="1.1"/>
<rect x="685.80" y="768.0" width="3.4" height="7.0" fill="#a8454b" stroke="#141414" stroke-width="1.1"/>
<rect x="689.80" y="775.0" width="3.4" height="4.0" fill="#a8454b" stroke="#141414" stroke-width="1.1"/>
<rect x="693.80" y="779.0" width="3.4" height="2.0" fill="#a8454b" stroke="#141414" stroke-width="1.1"/>
<rect x="697.80" y="781.0" width="3.4" height="3.0" fill="#a8454b" stroke="#141414" stroke-width="1.1"/>
<rect x="701.80" y="784.0" width="3.4" height="6.0" fill="#a8454b" stroke="#141414" stroke-width="1.1"/>
<rect x="705.80" y="789.0" width="3.4" height="10.0" fill="#a8454b" stroke="#141414" stroke-width="1.1"/>
<rect x="709.80" y="796.0" width="3.4" height="3.0" fill="#2f766a" stroke="#141414" stroke-width="1.1"/>
<rect x="712.80" y="790.0" width="3.4" height="6.0" fill="#2f766a" stroke="#141414" stroke-width="1.1"/>
<rect x="716.80" y="790.0" width="3.4" height="7.0" fill="#a8454b" stroke="#141414" stroke-width="1.1"/>
<rect x="720.80" y="796.0" width="3.4" height="1.0" fill="#2f766a" stroke="#141414" stroke-width="1.1"/>
<rect x="724.80" y="786.0" width="3.4" height="10.0" fill="#2f766a" stroke="#141414" stroke-width="1.1"/>
<rect x="728.80" y="786.0" width="3.4" height="4.0" fill="#a8454b" stroke="#141414" stroke-width="1.1"/>
<rect x="732.80" y="790.0" width="3.4" height="5.0" fill="#a8454b" stroke="#141414" stroke-width="1.1"/>
<rect x="736.80" y="794.0" width="3.4" height="39.0" fill="#a8454b" stroke="#141414" stroke-width="1.1"/>
<rect x="740.80" y="817.0" width="3.4" height="16.0" fill="#2f766a" stroke="#141414" stroke-width="1.1"/>
<rect x="744.80" y="817.0" width="3.4" height="1.0" fill="#a8454b" stroke="#141414" stroke-width="1.1"/>
<rect x="748.80" y="818.0" width="3.4" height="7.0" fill="#a8454b" stroke="#141414" stroke-width="1.1"/>
<rect x="752.80" y="806.0" width="3.4" height="19.0" fill="#2f766a" stroke="#141414" stroke-width="1.1"/>
<rect x="756.80" y="806.0" width="3.4" height="4.0" fill="#a8454b" stroke="#141414" stroke-width="1.1"/>
<rect x="760.80" y="810.0" width="3.4" height="1.0" fill="#a8454b" stroke="#141414" stroke-width="1.1"/>
<rect x="764.80" y="811.0" width="3.4" height="10.0" fill="#a8454b" stroke="#141414" stroke-width="1.1"/>
<rect x="768.80" y="818.0" width="3.4" height="3.0" fill="#2f766a" stroke="#141414" stroke-width="1.1"/>
<rect x="772.80" y="817.8" width="3.4" height="1.0" fill="#a8454b" stroke="#141414" stroke-width="1.1"/>
<rect x="776.80" y="818.0" width="3.4" height="2.0" fill="#a8454b" stroke="#141414" stroke-width="1.1"/>
<rect x="780.80" y="820.0" width="3.4" height="2.0" fill="#a8454b" stroke="#141414" stroke-width="1.1"/>
<rect x="784.80" y="822.0" width="3.4" height="1.0" fill="#a8454b" stroke="#141414" stroke-width="1.1"/>
<rect x="788.80" y="822.0" width="3.4" height="1.0" fill="#a8454b" stroke="#141414" stroke-width="1.1"/>
<rect x="792.80" y="822.8" width="3.4" height="1.0" fill="#a8454b" stroke="#141414" stroke-width="1.1"/>
<rect x="796.80" y="823.0" width="3.4" height="1.5" fill="#a8454b" stroke="#141414" stroke-width="1.1"/>
<rect x="800.80" y="824.5" width="3.4" height="1.5" fill="#a8454b" stroke="#141414" stroke-width="1.1"/>
<rect x="804.80" y="826.0" width="3.4" height="1.0" fill="#a8454b" stroke="#141414" stroke-width="1.1"/>
<rect x="808.80" y="827.0" width="3.4" height="15.0" fill="#a8454b" stroke="#141414" stroke-width="1.1"/>
<rect x="812.80" y="841.0" width="3.4" height="1.0" fill="#2f766a" stroke="#141414" stroke-width="1.1"/>
<rect x="816.80" y="839.0" width="3.4" height="3.0" fill="#2f766a" stroke="#141414" stroke-width="1.1"/>
<rect x="820.80" y="834.0" width="3.4" height="5.0" fill="#2f766a" stroke="#141414" stroke-width="1.1"/>
<rect x="824.80" y="828.0" width="3.4" height="6.0" fill="#2f766a" stroke="#141414" stroke-width="1.1"/>
<rect x="827.80" y="828.0" width="3.4" height="3.0" fill="#a8454b" stroke="#141414" stroke-width="1.1"/>
<rect x="831.80" y="815.0" width="3.4" height="17.0" fill="#2f766a" stroke="#141414" stroke-width="1.1"/>
<rect x="835.80" y="815.0" width="3.4" height="3.0" fill="#a8454b" stroke="#141414" stroke-width="1.1"/>
<rect x="839.80" y="804.5" width="3.4" height="13.5" fill="#2f766a" stroke="#141414" stroke-width="1.1"/>
<rect x="843.80" y="804.5" width="3.4" height="10.5" fill="#a8454b" stroke="#141414" stroke-width="1.1"/>
<rect x="847.80" y="815.0" width="3.4" height="9.0" fill="#a8454b" stroke="#141414" stroke-width="1.1"/>
<rect x="851.80" y="824.0" width="3.4" height="1.0" fill="#a8454b" stroke="#141414" stroke-width="1.1"/>
<rect x="855.80" y="824.8" width="3.4" height="1.0" fill="#a8454b" stroke="#141414" stroke-width="1.1"/>
<rect x="859.80" y="825.5" width="3.4" height="4.5" fill="#a8454b" stroke="#141414" stroke-width="1.1"/>
<rect x="863.80" y="830.0" width="3.4" height="3.0" fill="#a8454b" stroke="#141414" stroke-width="1.1"/>
<rect x="867.80" y="833.0" width="3.4" height="2.0" fill="#a8454b" stroke="#141414" stroke-width="1.1"/>
<rect x="871.80" y="835.6" width="3.4" height="29.4" fill="#a8454b" stroke="#141414" stroke-width="1.1"/>
<rect x="875.80" y="865.0" width="3.4" height="2.0" fill="#a8454b" stroke="#141414" stroke-width="1.1"/>
<rect x="879.80" y="866.0" width="3.4" height="9.0" fill="#a8454b" stroke="#141414" stroke-width="1.1"/>
<rect x="883.80" y="875.0" width="3.4" height="3.5" fill="#a8454b" stroke="#141414" stroke-width="1.1"/>
<rect x="887.80" y="877.0" width="3.4" height="1.0" fill="#2f766a" stroke="#141414" stroke-width="1.1"/>
<rect x="891.80" y="877.0" width="3.4" height="29.0" fill="#a8454b" stroke="#141414" stroke-width="1.1"/>
<rect x="895.80" y="906.0" width="3.4" height="18.0" fill="#a8454b" stroke="#141414" stroke-width="1.1"/>
<rect x="899.80" y="917.0" width="3.4" height="6.0" fill="#2f766a" stroke="#141414" stroke-width="1.1"/>
<rect x="903.80" y="917.0" width="3.4" height="14.7" fill="#a8454b" stroke="#141414" stroke-width="1.1"/>
<rect x="907.80" y="928.0" width="3.4" height="3.0" fill="#2f766a" stroke="#141414" stroke-width="1.1"/>
<rect x="911.80" y="929.0" width="3.4" height="15.0" fill="#a8454b" stroke="#141414" stroke-width="1.1"/>
<rect x="915.80" y="936.5" width="3.4" height="7.5" fill="#2f766a" stroke="#141414" stroke-width="1.1"/>
<rect x="919.80" y="936.5" width="3.4" height="5.5" fill="#a8454b" stroke="#141414" stroke-width="1.1"/>
<rect x="923.80" y="934.0" width="3.4" height="8.0" fill="#2f766a" stroke="#141414" stroke-width="1.1"/>
<rect x="927.80" y="916.6" width="3.4" height="17.4" fill="#2f766a" stroke="#141414" stroke-width="1.1"/>
<rect x="931.80" y="916.6" width="3.4" height="5.4" fill="#a8454b" stroke="#141414" stroke-width="1.1"/>
<rect x="935.80" y="922.0" width="3.4" height="9.7" fill="#a8454b" stroke="#141414" stroke-width="1.1"/>
<rect x="939.80" y="919.0" width="3.4" height="12.7" fill="#2f766a" stroke="#141414" stroke-width="1.1"/>
<rect x="942.80" y="919.0" width="3.4" height="3.0" fill="#a8454b" stroke="#141414" stroke-width="1.1"/>
<rect x="946.80" y="922.0" width="3.4" height="16.0" fill="#a8454b" stroke="#141414" stroke-width="1.1"/>
<rect x="950.80" y="936.0" width="3.4" height="2.0" fill="#2f766a" stroke="#141414" stroke-width="1.1"/>
<rect x="954.80" y="936.0" width="3.4" height="11.6" fill="#a8454b" stroke="#141414" stroke-width="1.1"/>
<rect x="958.80" y="947.0" width="3.4" height="13.0" fill="#a8454b" stroke="#141414" stroke-width="1.1"/>
<rect x="962.80" y="960.0" width="3.4" height="6.7" fill="#a8454b" stroke="#141414" stroke-width="1.1"/>
<rect x="966.80" y="966.7" width="3.4" height="3.3" fill="#a8454b" stroke="#141414" stroke-width="1.1"/>
<rect x="970.80" y="964.0" width="3.4" height="6.0" fill="#2f766a" stroke="#141414" stroke-width="1.1"/>
<rect x="974.80" y="964.0" width="3.4" height="6.0" fill="#a8454b" stroke="#141414" stroke-width="1.1"/>
<rect x="978.80" y="970.0" width="3.4" height="5.0" fill="#a8454b" stroke="#141414" stroke-width="1.1"/>
<rect x="982.80" y="971.0" width="3.4" height="4.0" fill="#2f766a" stroke="#141414" stroke-width="1.1"/>
<rect x="986.80" y="970.5" width="3.4" height="6.5" fill="#a8454b" stroke="#141414" stroke-width="1.1"/>
<rect x="990.80" y="976.8" width="3.4" height="1.0" fill="#a8454b" stroke="#141414" stroke-width="1.1"/>
<rect x="994.80" y="975.0" width="3.4" height="2.0" fill="#2f766a" stroke="#141414" stroke-width="1.1"/>
<rect x="998.80" y="963.3" width="3.4" height="11.1" fill="#2f766a" stroke="#141414" stroke-width="1.1"/>
<rect x="1002.80" y="944.4" width="3.4" height="19.6" fill="#2f766a" stroke="#141414" stroke-width="1.1"/>
<rect x="1006.80" y="937.8" width="3.4" height="6.6" fill="#2f766a" stroke="#141414" stroke-width="1.1"/>
<rect x="1010.80" y="938.0" width="3.4" height="5.7" fill="#a8454b" stroke="#141414" stroke-width="1.1"/>
<rect x="1014.80" y="926.0" width="3.4" height="18.0" fill="#2f766a" stroke="#141414" stroke-width="1.1"/>
<rect x="1018.80" y="926.7" width="3.4" height="9.3" fill="#a8454b" stroke="#141414" stroke-width="1.1"/>
<rect x="1022.80" y="929.3" width="3.4" height="7.7" fill="#2f766a" stroke="#141414" stroke-width="1.1"/>
<rect x="1026.80" y="922.8" width="3.4" height="6.2" fill="#2f766a" stroke="#141414" stroke-width="1.1"/>
<rect x="1030.80" y="922.0" width="3.4" height="1.0" fill="#2f766a" stroke="#141414" stroke-width="1.1"/>
<rect x="1034.80" y="922.8" width="3.4" height="11.7" fill="#a8454b" stroke="#141414" stroke-width="1.1"/>
<rect x="1038.80" y="934.5" width="3.4" height="3.5" fill="#a8454b" stroke="#141414" stroke-width="1.1"/>
<rect x="1042.80" y="935.0" width="3.4" height="15.0" fill="#a8454b" stroke="#141414" stroke-width="1.1"/>
<rect x="1046.80" y="925.4" width="3.4" height="24.6" fill="#2f766a" stroke="#141414" stroke-width="1.1"/>
<rect x="1050.80" y="926.0" width="3.4" height="8.0" fill="#a8454b" stroke="#141414" stroke-width="1.1"/>
<rect x="1054.80" y="933.0" width="3.4" height="1.0" fill="#2f766a" stroke="#141414" stroke-width="1.1"/>
<rect x="1057.80" y="929.0" width="3.4" height="9.5" fill="#a8454b" stroke="#141414" stroke-width="1.1"/>
<rect x="1061.80" y="927.4" width="3.4" height="10.6" fill="#2f766a" stroke="#141414" stroke-width="1.1"/>
<rect x="1065.80" y="920.2" width="3.4" height="7.2" fill="#2f766a" stroke="#141414" stroke-width="1.1"/>
<rect x="1069.80" y="920.0" width="3.4" height="8.7" fill="#a8454b" stroke="#141414" stroke-width="1.1"/>
<rect x="1073.80" y="927.0" width="3.4" height="1.7" fill="#2f766a" stroke="#141414" stroke-width="1.1"/>
<rect x="1077.80" y="913.6" width="3.4" height="13.8" fill="#2f766a" stroke="#141414" stroke-width="1.1"/>
<rect x="1081.80" y="890.0" width="3.4" height="23.6" fill="#2f766a" stroke="#141414" stroke-width="1.1"/>
<rect x="1085.80" y="890.0" width="3.4" height="7.0" fill="#a8454b" stroke="#141414" stroke-width="1.1"/>
<rect x="1089.80" y="891.5" width="3.4" height="6.2" fill="#2f766a" stroke="#141414" stroke-width="1.1"/>
<rect x="1093.80" y="891.5" width="3.4" height="1.5" fill="#a8454b" stroke="#141414" stroke-width="1.1"/>
<rect x="1097.80" y="893.0" width="3.4" height="28.8" fill="#a8454b" stroke="#141414" stroke-width="1.1"/>
<rect x="1101.80" y="921.8" width="3.4" height="9.0" fill="#a8454b" stroke="#141414" stroke-width="1.1"/>
<rect x="1105.80" y="929.9" width="3.4" height="1.0" fill="#2f766a" stroke="#141414" stroke-width="1.1"/>
<rect x="1109.80" y="929.6" width="3.4" height="11.3" fill="#a8454b" stroke="#141414" stroke-width="1.1"/>
<rect x="1113.80" y="929.6" width="3.4" height="11.3" fill="#2f766a" stroke="#141414" stroke-width="1.1"/>
<rect x="1117.80" y="929.6" width="3.4" height="3.4" fill="#a8454b" stroke="#141414" stroke-width="1.1"/>
<rect x="1121.80" y="932.0" width="3.4" height="3.0" fill="#2f766a" stroke="#141414" stroke-width="1.1"/>
<rect x="1125.80" y="932.0" width="3.4" height="1.0" fill="#a8454b" stroke="#141414" stroke-width="1.1"/>
<rect x="1129.80" y="931.0" width="3.4" height="4.0" fill="#a8454b" stroke="#141414" stroke-width="1.1"/>
<rect x="1133.80" y="929.6" width="3.4" height="4.4" fill="#2f766a" stroke="#141414" stroke-width="1.1"/>
<rect x="1137.80" y="929.6" width="3.4" height="7.4" fill="#a8454b" stroke="#141414" stroke-width="1.1"/>
<rect x="1141.80" y="936.0" width="3.4" height="1.0" fill="#2f766a" stroke="#141414" stroke-width="1.1"/>
<rect x="1145.80" y="934.0" width="3.4" height="2.0" fill="#2f766a" stroke="#141414" stroke-width="1.1"/>
<rect x="1149.80" y="931.0" width="3.4" height="3.0" fill="#2f766a" stroke="#141414" stroke-width="1.1"/>
<rect x="1153.80" y="928.5" width="3.4" height="2.5" fill="#2f766a" stroke="#141414" stroke-width="1.1"/>
<rect x="1157.80" y="927.5" width="3.4" height="1.0" fill="#2f766a" stroke="#141414" stroke-width="1.1"/>
<rect x="1161.80" y="926.5" width="3.4" height="1.0" fill="#2f766a" stroke="#141414" stroke-width="1.1"/>
<rect x="1165.80" y="926.5" width="3.4" height="2.0" fill="#a8454b" stroke="#141414" stroke-width="1.1"/>
<rect x="1169.80" y="927.4" width="3.4" height="6.6" fill="#a8454b" stroke="#141414" stroke-width="1.1"/>
<rect x="1172.80" y="934.0" width="3.4" height="1.0" fill="#a8454b" stroke="#141414" stroke-width="1.1"/>
<rect x="1176.80" y="929.0" width="3.4" height="5.7" fill="#2f766a" stroke="#141414" stroke-width="1.1"/>
<rect x="1180.80" y="929.0" width="3.4" height="1.0" fill="#a8454b" stroke="#141414" stroke-width="1.1"/>
<rect x="1184.80" y="925.5" width="3.4" height="7.0" fill="#2f766a" stroke="#141414" stroke-width="1.1"/>
<rect x="1188.80" y="916.4" width="3.4" height="9.1" fill="#2f766a" stroke="#141414" stroke-width="1.1"/>
<rect x="1192.80" y="916.4" width="3.4" height="7.0" fill="#a8454b" stroke="#141414" stroke-width="1.1"/>
<rect x="1196.80" y="920.0" width="3.4" height="3.4" fill="#2f766a" stroke="#141414" stroke-width="1.1"/>
<rect x="1200.80" y="919.0" width="3.4" height="1.0" fill="#2f766a" stroke="#141414" stroke-width="1.1"/>
<rect x="1204.80" y="918.5" width="3.4" height="7.5" fill="#a8454b" stroke="#141414" stroke-width="1.1"/>
<rect x="1208.80" y="925.8" width="3.4" height="1.0" fill="#a8454b" stroke="#141414" stroke-width="1.1"/>
<rect x="1212.80" y="870.0" width="3.4" height="55.5" fill="#2f766a" stroke="#141414" stroke-width="1.1"/>
<rect x="1216.80" y="863.8" width="3.4" height="9.1" fill="#2f766a" stroke="#141414" stroke-width="1.1"/>
<rect x="1220.80" y="851.2" width="3.4" height="12.6" fill="#2f766a" stroke="#141414" stroke-width="1.1"/>
<rect x="1224.80" y="851.2" width="3.4" height="21.0" fill="#a8454b" stroke="#141414" stroke-width="1.1"/>
<rect x="1228.80" y="866.0" width="3.4" height="6.0" fill="#2f766a" stroke="#141414" stroke-width="1.1"/>
<rect x="1232.80" y="866.0" width="3.4" height="12.5" fill="#a8454b" stroke="#141414" stroke-width="1.1"/>
<rect x="1236.80" y="878.2" width="3.4" height="1.0" fill="#a8454b" stroke="#141414" stroke-width="1.1"/>
<rect x="1240.80" y="872.9" width="3.4" height="7.7" fill="#2f766a" stroke="#141414" stroke-width="1.1"/>
<rect x="1244.80" y="870.0" width="3.4" height="3.0" fill="#2f766a" stroke="#141414" stroke-width="1.1"/>
<rect x="1248.80" y="865.2" width="3.4" height="6.3" fill="#2f766a" stroke="#141414" stroke-width="1.1"/>
<rect x="1252.80" y="844.2" width="3.4" height="22.4" fill="#2f766a" stroke="#141414" stroke-width="1.1"/>
<rect x="1256.80" y="842.0" width="3.4" height="2.0" fill="#2f766a" stroke="#141414" stroke-width="1.1"/>
<rect x="1260.80" y="825.2" width="3.4" height="22.5" fill="#2f766a" stroke="#141414" stroke-width="1.1"/>
<rect x="1264.80" y="824.5" width="3.4" height="13.4" fill="#a8454b" stroke="#141414" stroke-width="1.1"/>
<rect x="1268.80" y="836.0" width="3.4" height="2.0" fill="#2f766a" stroke="#141414" stroke-width="1.1"/>
<rect x="1272.80" y="825.2" width="3.4" height="16.2" fill="#2f766a" stroke="#141414" stroke-width="1.1"/>
<rect x="1276.80" y="825.2" width="3.4" height="41.4" fill="#a8454b" stroke="#141414" stroke-width="1.1"/>
<rect x="1280.80" y="856.1" width="3.4" height="10.5" fill="#2f766a" stroke="#141414" stroke-width="1.1"/>
<rect x="1284.80" y="856.0" width="3.4" height="3.6" fill="#a8454b" stroke="#141414" stroke-width="1.1"/>
<rect x="1287.80" y="858.0" width="3.4" height="1.6" fill="#2f766a" stroke="#141414" stroke-width="1.1"/>
<rect x="1291.80" y="851.0" width="3.4" height="8.0" fill="#2f766a" stroke="#141414" stroke-width="1.1"/>
<rect x="1295.80" y="848.0" width="3.4" height="8.0" fill="#2f766a" stroke="#141414" stroke-width="1.1"/>
<rect x="1299.80" y="839.0" width="3.4" height="9.0" fill="#2f766a" stroke="#141414" stroke-width="1.1"/>
<rect x="1303.80" y="841.0" width="3.4" height="3.0" fill="#a8454b" stroke="#141414" stroke-width="1.1"/>
<rect x="1307.80" y="844.6" width="3.4" height="11.1" fill="#a8454b" stroke="#141414" stroke-width="1.1"/>
<rect x="1311.80" y="818.5" width="3.4" height="36.6" fill="#2f766a" stroke="#141414" stroke-width="1.1"/>
<rect x="1315.80" y="804.1" width="3.4" height="14.4" fill="#2f766a" stroke="#141414" stroke-width="1.1"/>
<rect x="1319.80" y="795.6" width="3.4" height="9.1" fill="#2f766a" stroke="#141414" stroke-width="1.1"/>
<rect x="1323.80" y="796.2" width="3.4" height="5.9" fill="#a8454b" stroke="#141414" stroke-width="1.1"/>
<rect x="1327.80" y="790.4" width="3.4" height="13.7" fill="#2f766a" stroke="#141414" stroke-width="1.1"/>
<rect x="1331.80" y="791.0" width="3.4" height="4.0" fill="#a8454b" stroke="#141414" stroke-width="1.1"/>
<rect x="1335.80" y="794.9" width="3.4" height="13.1" fill="#a8454b" stroke="#141414" stroke-width="1.1"/>
<rect x="1339.80" y="798.9" width="3.4" height="9.1" fill="#2f766a" stroke="#141414" stroke-width="1.1"/>
<rect x="1343.80" y="798.2" width="3.4" height="5.9" fill="#a8454b" stroke="#141414" stroke-width="1.1"/>
<rect x="1347.80" y="801.5" width="3.4" height="3.2" fill="#2f766a" stroke="#141414" stroke-width="1.1"/>
<rect x="1351.80" y="785.1" width="3.4" height="16.4" fill="#2f766a" stroke="#141414" stroke-width="1.1"/>
<rect x="1355.80" y="773.4" width="3.4" height="13.0" fill="#2f766a" stroke="#141414" stroke-width="1.1"/>
<rect x="1359.80" y="773.4" width="3.4" height="2.6" fill="#a8454b" stroke="#141414" stroke-width="1.1"/>
<rect x="1363.80" y="776.6" width="3.4" height="6.6" fill="#a8454b" stroke="#141414" stroke-width="1.1"/>
<rect x="1367.80" y="781.0" width="3.4" height="2.0" fill="#2f766a" stroke="#141414" stroke-width="1.1"/>
<rect x="1371.80" y="778.6" width="3.4" height="3.3" fill="#2f766a" stroke="#141414" stroke-width="1.1"/>
<rect x="1375.80" y="778.6" width="3.4" height="10.4" fill="#a8454b" stroke="#141414" stroke-width="1.1"/>
<rect x="1379.80" y="786.0" width="3.4" height="3.0" fill="#2f766a" stroke="#141414" stroke-width="1.1"/>
<rect x="1383.80" y="776.6" width="3.4" height="9.2" fill="#2f766a" stroke="#141414" stroke-width="1.1"/>
<rect x="1387.80" y="777.3" width="3.4" height="5.9" fill="#a8454b" stroke="#141414" stroke-width="1.1"/>
<rect x="1391.80" y="783.8" width="3.4" height="4.6" fill="#a8454b" stroke="#141414" stroke-width="1.1"/>
<rect x="1395.80" y="788.2" width="3.4" height="1.0" fill="#a8454b" stroke="#141414" stroke-width="1.1"/>
<rect x="1399.80" y="773.4" width="3.4" height="15.6" fill="#2f766a" stroke="#141414" stroke-width="1.1"/>
<rect x="1402.80" y="774.0" width="3.4" height="4.0" fill="#a8454b" stroke="#141414" stroke-width="1.1"/>
<rect x="1406.80" y="774.0" width="3.4" height="4.0" fill="#2f766a" stroke="#141414" stroke-width="1.1"/>
<rect x="1410.80" y="773.6" width="3.4" height="5.2" fill="#a8454b" stroke="#141414" stroke-width="1.1"/>
<rect x="1414.80" y="778.4" width="3.4" height="1.0" fill="#a8454b" stroke="#141414" stroke-width="1.1"/>
<rect x="1418.80" y="779.0" width="3.4" height="1.0" fill="#a8454b" stroke="#141414" stroke-width="1.1"/>
<rect x="1422.80" y="692.4" width="3.4" height="88.4" fill="#2f766a" stroke="#141414" stroke-width="1.1"/>
<rect x="1426.80" y="652.3" width="3.4" height="40.1" fill="#2f766a" stroke="#141414" stroke-width="1.1"/>
<rect x="1431.20" y="645.0" width="2.6" height="23.0" fill="#1a1414"/>
<rect x="1434.80" y="632.0" width="3.4" height="18.0" fill="#2f766a" stroke="#141414" stroke-width="1.1"/>
<rect x="1438.80" y="612.0" width="3.4" height="20.0" fill="#2f766a" stroke="#141414" stroke-width="1.1"/>
<rect x="1442.80" y="612.0" width="3.4" height="1.0" fill="#a8454b" stroke="#141414" stroke-width="1.1"/>
<rect x="1446.80" y="613.5" width="3.4" height="15.5" fill="#a8454b" stroke="#141414" stroke-width="1.1"/>
<rect x="1450.80" y="629.0" width="3.4" height="14.0" fill="#a8454b" stroke="#141414" stroke-width="1.1"/>
<rect x="1454.80" y="640.0" width="3.4" height="3.0" fill="#2f766a" stroke="#141414" stroke-width="1.1"/>
<rect x="1458.80" y="638.0" width="3.4" height="45.6" fill="#a8454b" stroke="#141414" stroke-width="1.1"/>
<rect x="1462.80" y="680.0" width="3.4" height="3.6" fill="#2f766a" stroke="#141414" stroke-width="1.1"/>
<rect x="1466.80" y="675.0" width="3.4" height="11.0" fill="#a8454b" stroke="#141414" stroke-width="1.1"/>
<rect x="1470.80" y="658.3" width="3.4" height="30.7" fill="#2f766a" stroke="#141414" stroke-width="1.1"/>
<rect x="1474.80" y="658.3" width="3.4" height="31.6" fill="#a8454b" stroke="#141414" stroke-width="1.1"/>
<rect x="1478.80" y="674.9" width="3.4" height="15.4" fill="#2f766a" stroke="#141414" stroke-width="1.1"/>
<rect x="1482.80" y="674.9" width="3.4" height="8.2" fill="#a8454b" stroke="#141414" stroke-width="1.1"/>
<rect x="1486.80" y="667.7" width="3.4" height="15.4" fill="#2f766a" stroke="#141414" stroke-width="1.1"/>
<rect x="1490.80" y="665.0" width="3.4" height="2.7" fill="#2f766a" stroke="#141414" stroke-width="1.1"/>
<rect x="1494.80" y="663.6" width="3.4" height="7.2" fill="#a8454b" stroke="#141414" stroke-width="1.1"/>
<rect x="1498.80" y="670.8" width="3.4" height="22.6" fill="#a8454b" stroke="#141414" stroke-width="1.1"/>
<rect x="1502.80" y="693.4" width="3.4" height="3.6" fill="#a8454b" stroke="#141414" stroke-width="1.1"/>
<rect x="1506.80" y="695.5" width="3.4" height="16.4" fill="#a8454b" stroke="#141414" stroke-width="1.1"/>
<rect x="1510.80" y="711.9" width="3.4" height="1.1" fill="#a8454b" stroke="#141414" stroke-width="1.1"/>
<rect x="1514.80" y="711.9" width="3.4" height="12.4" fill="#a8454b" stroke="#141414" stroke-width="1.1"/>
<rect x="1517.80" y="705.7" width="3.4" height="18.6" fill="#2f766a" stroke="#141414" stroke-width="1.1"/>
<rect x="1521.80" y="705.7" width="3.4" height="6.2" fill="#a8454b" stroke="#141414" stroke-width="1.1"/>
<rect x="1525.80" y="711.9" width="3.4" height="8.8" fill="#a8454b" stroke="#141414" stroke-width="1.1"/>
<rect x="1529.80" y="720.7" width="3.4" height="7.1" fill="#a8454b" stroke="#141414" stroke-width="1.1"/>
<rect x="1533.80" y="690.5" width="3.4" height="37.3" fill="#2f766a" stroke="#141414" stroke-width="1.1"/>
<rect x="1537.80" y="691.4" width="3.4" height="6.2" fill="#a8454b" stroke="#141414" stroke-width="1.1"/>
<rect x="1541.80" y="696.0" width="3.4" height="1.6" fill="#2f766a" stroke="#141414" stroke-width="1.1"/>
<rect x="1545.80" y="667.4" width="3.4" height="29.3" fill="#2f766a" stroke="#141414" stroke-width="1.1"/>
<rect x="1549.80" y="667.4" width="3.4" height="6.3" fill="#a8454b" stroke="#141414" stroke-width="1.1"/>
<rect x="1553.80" y="675.4" width="3.4" height="8.9" fill="#a8454b" stroke="#141414" stroke-width="1.1"/>
<rect x="1557.80" y="684.3" width="3.4" height="2.7" fill="#a8454b" stroke="#141414" stroke-width="1.1"/>
<rect x="1561.80" y="687.0" width="3.4" height="4.0" fill="#a8454b" stroke="#141414" stroke-width="1.1"/>
<rect x="1565.80" y="691.4" width="3.4" height="8.9" fill="#a8454b" stroke="#141414" stroke-width="1.1"/>
<rect x="1569.80" y="695.9" width="3.4" height="9.7" fill="#a8454b" stroke="#141414" stroke-width="1.1"/>
<rect x="1573.80" y="693.2" width="3.4" height="12.4" fill="#2f766a" stroke="#141414" stroke-width="1.1"/>
<rect x="1577.80" y="643.5" width="3.4" height="49.7" fill="#2f766a" stroke="#141414" stroke-width="1.1"/>
<rect x="1581.80" y="643.5" width="3.4" height="11.5" fill="#a8454b" stroke="#141414" stroke-width="1.1"/>
<rect x="1585.80" y="645.2" width="3.4" height="8.9" fill="#2f766a" stroke="#141414" stroke-width="1.1"/>
<rect x="1589.80" y="621.3" width="3.4" height="23.1" fill="#2f766a" stroke="#141414" stroke-width="1.1"/>
<rect x="1593.80" y="567.1" width="3.4" height="54.2" fill="#2f766a" stroke="#141414" stroke-width="1.1"/>
<rect x="1597.80" y="567.1" width="3.4" height="33.7" fill="#a8454b" stroke="#141414" stroke-width="1.1"/>
<rect x="1601.80" y="600.8" width="3.4" height="25.8" fill="#a8454b" stroke="#141414" stroke-width="1.1"/>
<rect x="1605.80" y="626.6" width="3.4" height="21.3" fill="#a8454b" stroke="#141414" stroke-width="1.1"/>
<rect x="1609.80" y="604.4" width="3.4" height="42.6" fill="#2f766a" stroke="#141414" stroke-width="1.1"/>
<rect x="1613.80" y="604.4" width="3.4" height="16.0" fill="#a8454b" stroke="#141414" stroke-width="1.1"/>
<rect x="1617.80" y="620.4" width="3.4" height="1.6" fill="#a8454b" stroke="#141414" stroke-width="1.1"/>
<rect x="1621.80" y="620.4" width="3.4" height="19.5" fill="#a8454b" stroke="#141414" stroke-width="1.1"/>
<rect x="1625.80" y="635.5" width="3.4" height="6.2" fill="#2f766a" stroke="#141414" stroke-width="1.1"/>
<rect x="1629.80" y="571.5" width="3.4" height="62.2" fill="#2f766a" stroke="#141414" stroke-width="1.1"/>
<rect x="1632.80" y="560.7" width="3.4" height="10.3" fill="#2f766a" stroke="#141414" stroke-width="1.1"/>
<rect x="1636.80" y="512.1" width="3.4" height="48.6" fill="#2f766a" stroke="#141414" stroke-width="1.1"/>
<rect x="1640.80" y="486.0" width="3.4" height="26.1" fill="#2f766a" stroke="#141414" stroke-width="1.1"/>
<rect x="1644.80" y="487.9" width="3.4" height="10.2" fill="#a8454b" stroke="#141414" stroke-width="1.1"/>
<rect x="1649.20" y="499.0" width="2.6" height="28.0" fill="#1a1414"/>
<rect x="1652.80" y="500.0" width="3.4" height="34.6" fill="#a8454b" stroke="#141414" stroke-width="1.1"/>
<rect x="1656.80" y="501.9" width="3.4" height="34.5" fill="#2f766a" stroke="#141414" stroke-width="1.1"/>
<rect x="1660.80" y="501.9" width="3.4" height="10.2" fill="#a8454b" stroke="#141414" stroke-width="1.1"/>
<rect x="1664.80" y="501.0" width="3.4" height="11.0" fill="#2f766a" stroke="#141414" stroke-width="1.1"/>
<rect x="1668.80" y="500.0" width="3.4" height="45.8" fill="#a8454b" stroke="#141414" stroke-width="1.1"/>
<rect x="1672.80" y="545.8" width="3.4" height="18.7" fill="#a8454b" stroke="#141414" stroke-width="1.1"/>
<rect x="1676.80" y="555.1" width="3.4" height="9.4" fill="#2f766a" stroke="#141414" stroke-width="1.1"/>
<rect x="1680.80" y="517.8" width="3.4" height="37.3" fill="#2f766a" stroke="#141414" stroke-width="1.1"/>
<rect x="1684.80" y="486.0" width="3.4" height="31.8" fill="#2f766a" stroke="#141414" stroke-width="1.1"/>
<rect x="1688.80" y="478.0" width="3.4" height="24.0" fill="#2f766a" stroke="#141414" stroke-width="1.1"/>
<rect x="1692.80" y="478.5" width="3.4" height="20.6" fill="#a8454b" stroke="#141414" stroke-width="1.1"/>
<rect x="1696.80" y="420.6" width="3.4" height="78.5" fill="#2f766a" stroke="#141414" stroke-width="1.1"/>
<rect x="1700.80" y="387.3" width="3.4" height="33.6" fill="#2f766a" stroke="#141414" stroke-width="1.1"/>
<rect x="1705.20" y="386.0" width="2.6" height="25.0" fill="#1a1414"/>
<rect x="1708.80" y="387.3" width="3.4" height="28.0" fill="#a8454b" stroke="#141414" stroke-width="1.1"/>
<rect x="1712.80" y="406.0" width="3.4" height="9.3" fill="#2f766a" stroke="#141414" stroke-width="1.1"/>
<rect x="1716.80" y="376.1" width="3.4" height="29.9" fill="#2f766a" stroke="#141414" stroke-width="1.1"/>
<rect x="1720.80" y="376.1" width="3.4" height="6.5" fill="#a8454b" stroke="#141414" stroke-width="1.1"/>
<rect x="1724.80" y="382.6" width="3.4" height="14.0" fill="#a8454b" stroke="#141414" stroke-width="1.1"/>
<rect x="1728.80" y="389.2" width="3.4" height="7.4" fill="#2f766a" stroke="#141414" stroke-width="1.1"/>
<rect x="1732.80" y="383.6" width="3.4" height="7.4" fill="#2f766a" stroke="#141414" stroke-width="1.1"/>
<rect x="1736.80" y="383.6" width="3.4" height="3.7" fill="#a8454b" stroke="#141414" stroke-width="1.1"/>
<rect x="1740.80" y="371.4" width="3.4" height="15.9" fill="#2f766a" stroke="#141414" stroke-width="1.1"/>
<rect x="1744.80" y="353.6" width="3.4" height="17.8" fill="#2f766a" stroke="#141414" stroke-width="1.1"/>
<rect x="1747.80" y="353.6" width="3.4" height="25.3" fill="#a8454b" stroke="#141414" stroke-width="1.1"/>
<rect x="1751.80" y="378.9" width="3.4" height="10.3" fill="#a8454b" stroke="#141414" stroke-width="1.1"/>
<rect x="1755.80" y="383.0" width="3.4" height="6.0" fill="#2f766a" stroke="#141414" stroke-width="1.1"/>
<rect x="1759.80" y="389.2" width="3.4" height="29.9" fill="#a8454b" stroke="#141414" stroke-width="1.1"/>
<rect x="1763.80" y="419.1" width="3.4" height="81.3" fill="#a8454b" stroke="#141414" stroke-width="1.1"/>
<rect x="1767.80" y="474.2" width="3.4" height="26.2" fill="#2f766a" stroke="#141414" stroke-width="1.1"/>
<rect x="1771.80" y="397.6" width="3.4" height="76.6" fill="#2f766a" stroke="#141414" stroke-width="1.1"/>
<rect x="1775.80" y="396.6" width="3.4" height="59.8" fill="#a8454b" stroke="#141414" stroke-width="1.1"/>
<rect x="1779.80" y="454.0" width="3.4" height="2.4" fill="#2f766a" stroke="#141414" stroke-width="1.1"/>
<rect x="1783.80" y="453.6" width="3.4" height="22.4" fill="#a8454b" stroke="#141414" stroke-width="1.1"/>
<rect x="1787.80" y="461.1" width="3.4" height="14.3" fill="#2f766a" stroke="#141414" stroke-width="1.1"/>
<rect x="1791.80" y="462.0" width="3.4" height="10.0" fill="#a8454b" stroke="#141414" stroke-width="1.1"/>
<rect x="1795.80" y="472.0" width="3.4" height="5.1" fill="#a8454b" stroke="#141414" stroke-width="1.1"/>
<rect x="1799.80" y="477.0" width="3.4" height="1.0" fill="#a8454b" stroke="#141414" stroke-width="1.1"/>
<rect x="1803.80" y="468.7" width="3.4" height="10.9" fill="#2f766a" stroke="#141414" stroke-width="1.1"/>
<rect x="1807.80" y="453.6" width="3.4" height="15.1" fill="#2f766a" stroke="#141414" stroke-width="1.1"/>
<rect x="1811.80" y="453.6" width="3.4" height="21.0" fill="#a8454b" stroke="#141414" stroke-width="1.1"/>
<rect x="1815.80" y="474.7" width="3.4" height="57.6" fill="#a8454b" stroke="#141414" stroke-width="1.1"/>
<rect x="1819.80" y="532.3" width="3.4" height="28.1" fill="#a8454b" stroke="#141414" stroke-width="1.1"/>
<rect x="1823.80" y="549.1" width="3.4" height="11.3" fill="#2f766a" stroke="#141414" stroke-width="1.1"/>
<rect x="1827.80" y="550.5" width="3.4" height="22.5" fill="#a8454b" stroke="#141414" stroke-width="1.1"/>
<rect x="1831.80" y="573.0" width="3.4" height="57.5" fill="#a8454b" stroke="#141414" stroke-width="1.1"/>
<rect x="1836.20" y="614.0" width="2.6" height="40.5" fill="#1a1414"/>
<rect x="1839.80" y="627.5" width="3.4" height="60.0" fill="#a8454b" stroke="#141414" stroke-width="1.1"/>
</g>
<rect x="8.2" y="37.2" width="2031.8" height="1024.6" fill="none" stroke="#50535c" stroke-width="1.5"/>
<line x1="1943.2" y1="37" x2="1943.2" y2="1062" stroke="#50535c" stroke-width="1.5"/>
<line x1="8" y1="1015.5" x2="2040" y2="1015.5" stroke="#50535c" stroke-width="1.5"/>
<line x1="1943" y1="995.1" x2="1951" y2="995.1" stroke="#50535c" stroke-width="1.4"/>
<line x1="1943" y1="942.8" x2="1951" y2="942.8" stroke="#50535c" stroke-width="1.4"/>
<line x1="1943" y1="890.5" x2="1951" y2="890.5" stroke="#50535c" stroke-width="1.4"/>
<line x1="1943" y1="838.1" x2="1951" y2="838.1" stroke="#50535c" stroke-width="1.4"/>
<line x1="1943" y1="785.8" x2="1951" y2="785.8" stroke="#50535c" stroke-width="1.4"/>
<line x1="1943" y1="733.5" x2="1951" y2="733.5" stroke="#50535c" stroke-width="1.4"/>
<line x1="1943" y1="681.1" x2="1951" y2="681.1" stroke="#50535c" stroke-width="1.4"/>
<line x1="1943" y1="628.8" x2="1951" y2="628.8" stroke="#50535c" stroke-width="1.4"/>
<line x1="1943" y1="576.5" x2="1951" y2="576.5" stroke="#50535c" stroke-width="1.4"/>
<line x1="1943" y1="524.1" x2="1951" y2="524.1" stroke="#50535c" stroke-width="1.4"/>
<line x1="1943" y1="471.8" x2="1951" y2="471.8" stroke="#50535c" stroke-width="1.4"/>
<line x1="1943" y1="419.4" x2="1951" y2="419.4" stroke="#50535c" stroke-width="1.4"/>
<line x1="1943" y1="367.1" x2="1951" y2="367.1" stroke="#50535c" stroke-width="1.4"/>
<line x1="1943" y1="314.8" x2="1951" y2="314.8" stroke="#50535c" stroke-width="1.4"/>
<line x1="1943" y1="262.4" x2="1951" y2="262.4" stroke="#50535c" stroke-width="1.4"/>
<line x1="1943" y1="210.1" x2="1951" y2="210.1" stroke="#50535c" stroke-width="1.4"/>
<line x1="1943" y1="157.8" x2="1951" y2="157.8" stroke="#50535c" stroke-width="1.4"/>
<line x1="1943" y1="105.4" x2="1951" y2="105.4" stroke="#50535c" stroke-width="1.4"/>
<line x1="1943" y1="53.1" x2="1951" y2="53.1" stroke="#50535c" stroke-width="1.4"/>
<line x1="217" y1="1015" x2="217" y2="1021.5" stroke="#50535c" stroke-width="1.4"/>
<line x1="459" y1="1015" x2="459" y2="1021.5" stroke="#50535c" stroke-width="1.4"/>
<line x1="701" y1="1015" x2="701" y2="1021.5" stroke="#50535c" stroke-width="1.4"/>
<line x1="839" y1="1015" x2="839" y2="1021.5" stroke="#50535c" stroke-width="1.4"/>
<line x1="1066.5" y1="1015" x2="1066.5" y2="1021.5" stroke="#50535c" stroke-width="1.4"/>
<line x1="1299.5" y1="1015" x2="1299.5" y2="1021.5" stroke="#50535c" stroke-width="1.4"/>
<line x1="1541.5" y1="1015" x2="1541.5" y2="1021.5" stroke="#50535c" stroke-width="1.4"/>
<line x1="1784" y1="1015" x2="1784" y2="1021.5" stroke="#50535c" stroke-width="1.4"/>
<polygon points="305.3,5.8 322.8,5.8 314,23.3" fill="#c0111b"/>
<text x="1958.30" y="1002.4" font-family="Liberation Sans, sans-serif" font-size="20" font-weight="normal" fill="#4f5159" textLength="56.70" lengthAdjust="spacingAndGlyphs">20.000</text>
<text x="1958.30" y="950.1" font-family="Liberation Sans, sans-serif" font-size="20" font-weight="normal" fill="#4f5159" textLength="56.70" lengthAdjust="spacingAndGlyphs">30.000</text>
<text x="1958.30" y="897.8" font-family="Liberation Sans, sans-serif" font-size="20" font-weight="normal" fill="#4f5159" textLength="56.70" lengthAdjust="spacingAndGlyphs">40.000</text>
<text x="1958.30" y="845.4" font-family="Liberation Sans, sans-serif" font-size="20" font-weight="normal" fill="#4f5159" textLength="56.70" lengthAdjust="spacingAndGlyphs">50.000</text>
<text x="1958.30" y="793.1" font-family="Liberation Sans, sans-serif" font-size="20" font-weight="normal" fill="#4f5159" textLength="56.70" lengthAdjust="spacingAndGlyphs">60.000</text>
<text x="1958.30" y="740.8" font-family="Liberation Sans, sans-serif" font-size="20" font-weight="normal" fill="#4f5159" textLength="56.70" lengthAdjust="spacingAndGlyphs">70.000</text>
<text x="1958.30" y="688.4" font-family="Liberation Sans, sans-serif" font-size="20" font-weight="normal" fill="#4f5159" textLength="56.70" lengthAdjust="spacingAndGlyphs">80.000</text>
<text x="1958.30" y="636.1" font-family="Liberation Sans, sans-serif" font-size="20" font-weight="normal" fill="#4f5159" textLength="56.70" lengthAdjust="spacingAndGlyphs">90.000</text>
<text x="1957.10" y="583.8" font-family="Liberation Sans, sans-serif" font-size="20" font-weight="normal" fill="#4f5159" textLength="67.60" lengthAdjust="spacingAndGlyphs">100.000</text>
<text x="1957.10" y="531.4" font-family="Liberation Sans, sans-serif" font-size="20" font-weight="normal" fill="#4f5159" textLength="67.60" lengthAdjust="spacingAndGlyphs">110.000</text>
<text x="1957.10" y="479.1" font-family="Liberation Sans, sans-serif" font-size="20" font-weight="normal" fill="#4f5159" textLength="67.60" lengthAdjust="spacingAndGlyphs">120.000</text>
<text x="1957.10" y="426.7" font-family="Liberation Sans, sans-serif" font-size="20" font-weight="normal" fill="#4f5159" textLength="67.60" lengthAdjust="spacingAndGlyphs">130.000</text>
<text x="1957.10" y="374.4" font-family="Liberation Sans, sans-serif" font-size="20" font-weight="normal" fill="#4f5159" textLength="67.60" lengthAdjust="spacingAndGlyphs">140.000</text>
<text x="1957.10" y="322.1" font-family="Liberation Sans, sans-serif" font-size="20" font-weight="normal" fill="#4f5159" textLength="67.60" lengthAdjust="spacingAndGlyphs">150.000</text>
<text x="1957.10" y="269.7" font-family="Liberation Sans, sans-serif" font-size="20" font-weight="normal" fill="#4f5159" textLength="67.60" lengthAdjust="spacingAndGlyphs">160.000</text>
<text x="1957.10" y="217.4" font-family="Liberation Sans, sans-serif" font-size="20" font-weight="normal" fill="#4f5159" textLength="67.60" lengthAdjust="spacingAndGlyphs">170.000</text>
<text x="1957.10" y="165.1" font-family="Liberation Sans, sans-serif" font-size="20" font-weight="normal" fill="#4f5159" textLength="67.60" lengthAdjust="spacingAndGlyphs">180.000</text>
<text x="1957.10" y="112.7" font-family="Liberation Sans, sans-serif" font-size="20" font-weight="normal" fill="#4f5159" textLength="67.60" lengthAdjust="spacingAndGlyphs">190.000</text>
<text x="1957.10" y="60.4" font-family="Liberation Sans, sans-serif" font-size="20" font-weight="normal" fill="#4f5159" textLength="67.60" lengthAdjust="spacingAndGlyphs">200.000</text>
<text x="200.60" y="1047.8" font-family="Liberation Sans, sans-serif" font-size="20" font-weight="normal" fill="#4f5159" textLength="31.60" lengthAdjust="spacingAndGlyphs">Jun</text>
<text x="442.50" y="1047.8" font-family="Liberation Sans, sans-serif" font-size="20" font-weight="normal" fill="#4f5159" textLength="31.90" lengthAdjust="spacingAndGlyphs">Aug</text>
<text x="685.20" y="1047.8" font-family="Liberation Sans, sans-serif" font-size="20" font-weight="normal" fill="#4f5159" textLength="29.20" lengthAdjust="spacingAndGlyphs">Oct</text>
<text x="833.80" y="1047.8" font-family="Liberation Sans, sans-serif" font-size="20" font-weight="normal" fill="#4f5159" textLength="10.20" lengthAdjust="spacingAndGlyphs">5</text>
<text x="1045.20" y="1047.8" font-family="Liberation Sans, sans-serif" font-size="20" font-weight="normal" fill="#4f5159" textLength="41.20" lengthAdjust="spacingAndGlyphs">2019</text>
<text x="1281.40" y="1047.8" font-family="Liberation Sans, sans-serif" font-size="20" font-weight="normal" fill="#4f5159" textLength="32.00" lengthAdjust="spacingAndGlyphs">Mar</text>
<text x="1522.70" y="1047.8" font-family="Liberation Sans, sans-serif" font-size="20" font-weight="normal" fill="#4f5159" textLength="35.00" lengthAdjust="spacingAndGlyphs">May</text>
<text x="1770.40" y="1047.8" font-family="Liberation Sans, sans-serif" font-size="20" font-weight="normal" fill="#4f5159" textLength="26.10" lengthAdjust="spacingAndGlyphs">Jul</text>
<text x="7.20" y="20.5" font-family="Liberation Sans, sans-serif" font-size="21.2" font-weight="bold" fill="#1e2028" textLength="214.60" lengthAdjust="spacingAndGlyphs">BITFINEX:LTCUSD, 1D</text>
<text x="234.20" y="20.5" font-family="Liberation Sans, sans-serif" font-size="21.2" font-weight="normal" fill="#1e2028" textLength="64.40" lengthAdjust="spacingAndGlyphs">78.786</text>
<text x="328.60" y="20.5" font-family="Liberation Sans, sans-serif" font-size="21.2" font-weight="normal" fill="#1e2028" textLength="79.00" lengthAdjust="spacingAndGlyphs">−11.314</text>
<text x="413.00" y="20.5" font-family="Liberation Sans, sans-serif" font-size="21.2" font-weight="normal" fill="#1e2028" textLength="98.20" lengthAdjust="spacingAndGlyphs">(−12.56%)</text>
<text x="519.00" y="20.5" font-family="Liberation Sans, sans-serif" font-size="21.2" font-weight="bold" fill="#1e2028" textLength="23.20" lengthAdjust="spacingAndGlyphs">O:</text>
<text x="542.60" y="20.5" font-family="Liberation Sans, sans-serif" font-size="21.2" font-weight="normal" fill="#b5202b" textLength="68.00" lengthAdjust="spacingAndGlyphs">90.250</text>
<text x="617.60" y="20.5" font-family="Liberation Sans, sans-serif" font-size="21.2" font-weight="bold" fill="#1e2028" textLength="22.60" lengthAdjust="spacingAndGlyphs">H:</text>
<text x="641.60" y="20.5" font-family="Liberation Sans, sans-serif" font-size="21.2" font-weight="normal" fill="#b5202b" textLength="66.20" lengthAdjust="spacingAndGlyphs">91.586</text>
<text x="716.60" y="20.5" font-family="Liberation Sans, sans-serif" font-size="21.2" font-weight="bold" fill="#1e2028" textLength="16.00" lengthAdjust="spacingAndGlyphs">L:</text>
<text x="735.80" y="20.5" font-family="Liberation Sans, sans-serif" font-size="21.2" font-weight="normal" fill="#b5202b" textLength="65.60" lengthAdjust="spacingAndGlyphs">75.885</text>
<text x="809.20" y="20.5" font-family="Liberation Sans, sans-serif" font-size="21.2" font-weight="bold" fill="#1e2028" textLength="19.80" lengthAdjust="spacingAndGlyphs">C:</text>
<text x="831.20" y="20.5" font-family="Liberation Sans, sans-serif" font-size="21.2" font-weight="normal" fill="#b5202b" textLength="65.60" lengthAdjust="spacingAndGlyphs">78.786</text>
<rect x="1943.5" y="183.3" width="96" height="28.5" fill="#f60c16"/>
<line x1="1943" y1="197.3" x2="1950" y2="197.3" stroke="#fbd0d0" stroke-width="1.4"/>
<rect x="1943.5" y="672.8" width="85.3" height="28.5" fill="#ef5350"/>
<line x1="1943" y1="686.8" x2="1950" y2="686.8" stroke="#fbd0d0" stroke-width="1.4"/>
<rect x="1943.5" y="761.0" width="85.3" height="28.5" fill="#f60c16"/>
<line x1="1943" y1="775.0" x2="1950" y2="775.0" stroke="#fbd0d0" stroke-width="1.4"/>
<rect x="1943.5" y="963.0" width="85.3" height="28.5" fill="#f60c16"/>
<line x1="1943" y1="977.0" x2="1950" y2="977.0" stroke="#fbd0d0" stroke-width="1.4"/>
<text x="1957.90" y="204.6" font-family="Liberation Sans, sans-serif" font-size="20" font-weight="normal" fill="#ffffff" textLength="66.40" lengthAdjust="spacingAndGlyphs">172.300</text>
<text x="1958.20" y="694.1" font-family="Liberation Sans, sans-serif" font-size="20" font-weight="normal" fill="#ffffff" textLength="54.80" lengthAdjust="spacingAndGlyphs">78.786</text>
<text x="1958.20" y="782.3" font-family="Liberation Sans, sans-serif" font-size="20" font-weight="normal" fill="#ffffff" textLength="55.80" lengthAdjust="spacingAndGlyphs">62.089</text>
<text x="1958.20" y="984.3" font-family="Liberation Sans, sans-serif" font-size="20" font-weight="normal" fill="#ffffff" textLength="55.30" lengthAdjust="spacingAndGlyphs">23.471</text>
</svg>
</body></html>
